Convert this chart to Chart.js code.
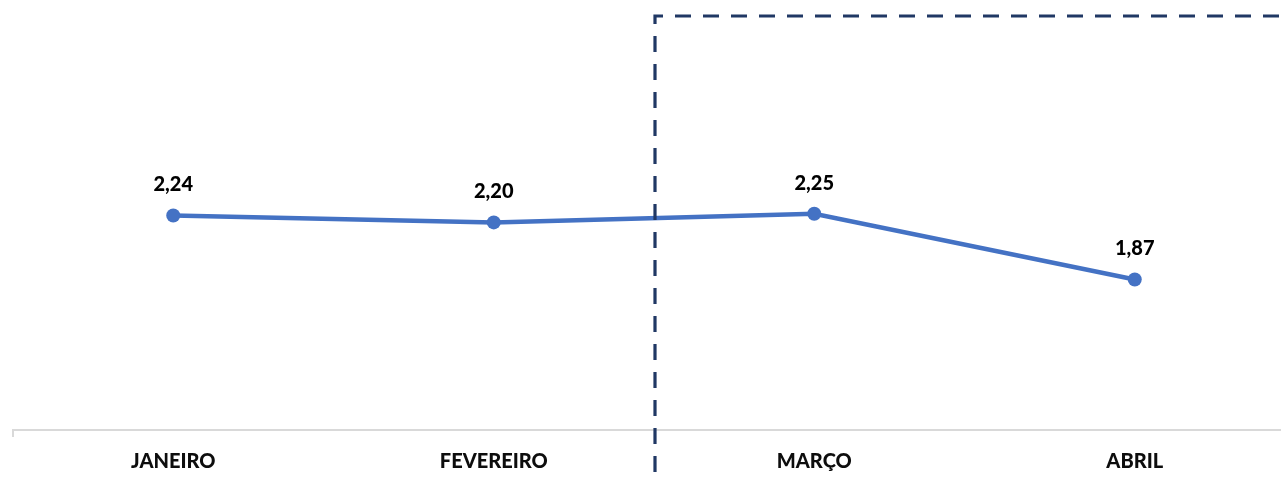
<!DOCTYPE html>
<html>
<head>
<meta charset="utf-8">
<script src="https://cdn.jsdelivr.net/npm/chart.js@4/dist/chart.umd.min.js"></script>
<style>
  html, body { margin: 0; padding: 0; background: #ffffff; overflow: hidden; }
  #wrap { position: relative; width: 1310px; height: 484px; }
</style>
</head>
<body>
<div id="wrap"><canvas id="c"></canvas></div>
<script>
const categories = ['JANEIRO', 'FEVEREIRO', 'MARÇO', 'ABRIL'];
const values = [2.24, 2.20, 2.25, 1.87];
const yMin = 1;
const yMax = 3;

const FONT = 'Lato, "Open Sans", sans-serif';

const valueLabels = {
  id: 'valueLabels',
  afterDatasetsDraw(chart) {
    const ctx = chart.ctx;
    const meta = chart.getDatasetMeta(0);
    ctx.save();
    ctx.font = '900 20px ' + FONT;
    ctx.fillStyle = '#000000';
    ctx.textAlign = 'center';
    ctx.textBaseline = 'alphabetic';
    meta.data.forEach((pt, i) => {
      const txt = values[i].toFixed(2).replace('.', ',');
      ctx.fillText(txt, pt.x, pt.y - 24);
    });
    ctx.restore();
  }
};

const dashedBox = {
  id: 'dashedBox',
  afterDatasetsDraw(chart) {
    const ctx = chart.ctx;
    const xs = chart.scales.x;
    const x = (xs.getPixelForValue(1) + xs.getPixelForValue(2)) / 2 + 1;
    const top = 16;
    ctx.save();
    ctx.strokeStyle = '#203864';
    ctx.lineWidth = 3.2;
    ctx.setLineDash([16, 12]);
    ctx.lineDashOffset = 16;
    ctx.beginPath();
    ctx.moveTo(x, 484);
    ctx.lineTo(x, top);
    ctx.lineTo(chart.width + 20, top);
    ctx.stroke();
    ctx.restore();
  }
};

new Chart(document.getElementById('c'), {
  type: 'line',
  data: {
    labels: categories,
    datasets: [{
      data: values,
      borderColor: '#4472C4',
      backgroundColor: '#4472C4',
      borderWidth: 4.5,
      pointRadius: 7,
      pointBorderWidth: 0,
      pointBackgroundColor: '#4472C4',
      tension: 0,
      clip: false
    }]
  },
  options: {
    responsive: true,
    maintainAspectRatio: false,
    animation: false,
    events: [],
    layout: { padding: { left: 13, right: 15, top: 84, bottom: 0 } },
    plugins: {
      legend: { display: false },
      tooltip: { enabled: false }
    },
    scales: {
      x: {
        type: 'category',
        offset: true,
        grid: {
          display: true,
          offset: true,
          drawOnChartArea: false,
          drawTicks: true,
          tickLength: 7,
          lineWidth: 2,
          color: (c) => (c.index === 0 ? '#d9d9d9' : 'rgba(0,0,0,0)')
        },
        border: { display: true, color: '#d9d9d9', width: 2 },
        ticks: {
          color: '#0d0d0d',
          font: { family: FONT, size: 20, weight: '900' },
          padding: 13,
          maxRotation: 0,
          autoSkip: false
        },
        afterFit: (s) => { s.height = 54; }
      },
      y: {
        display: false,
        min: yMin,
        max: yMax
      }
    }
  },
  plugins: [valueLabels, dashedBox]
});
</script>
</body>
</html>
